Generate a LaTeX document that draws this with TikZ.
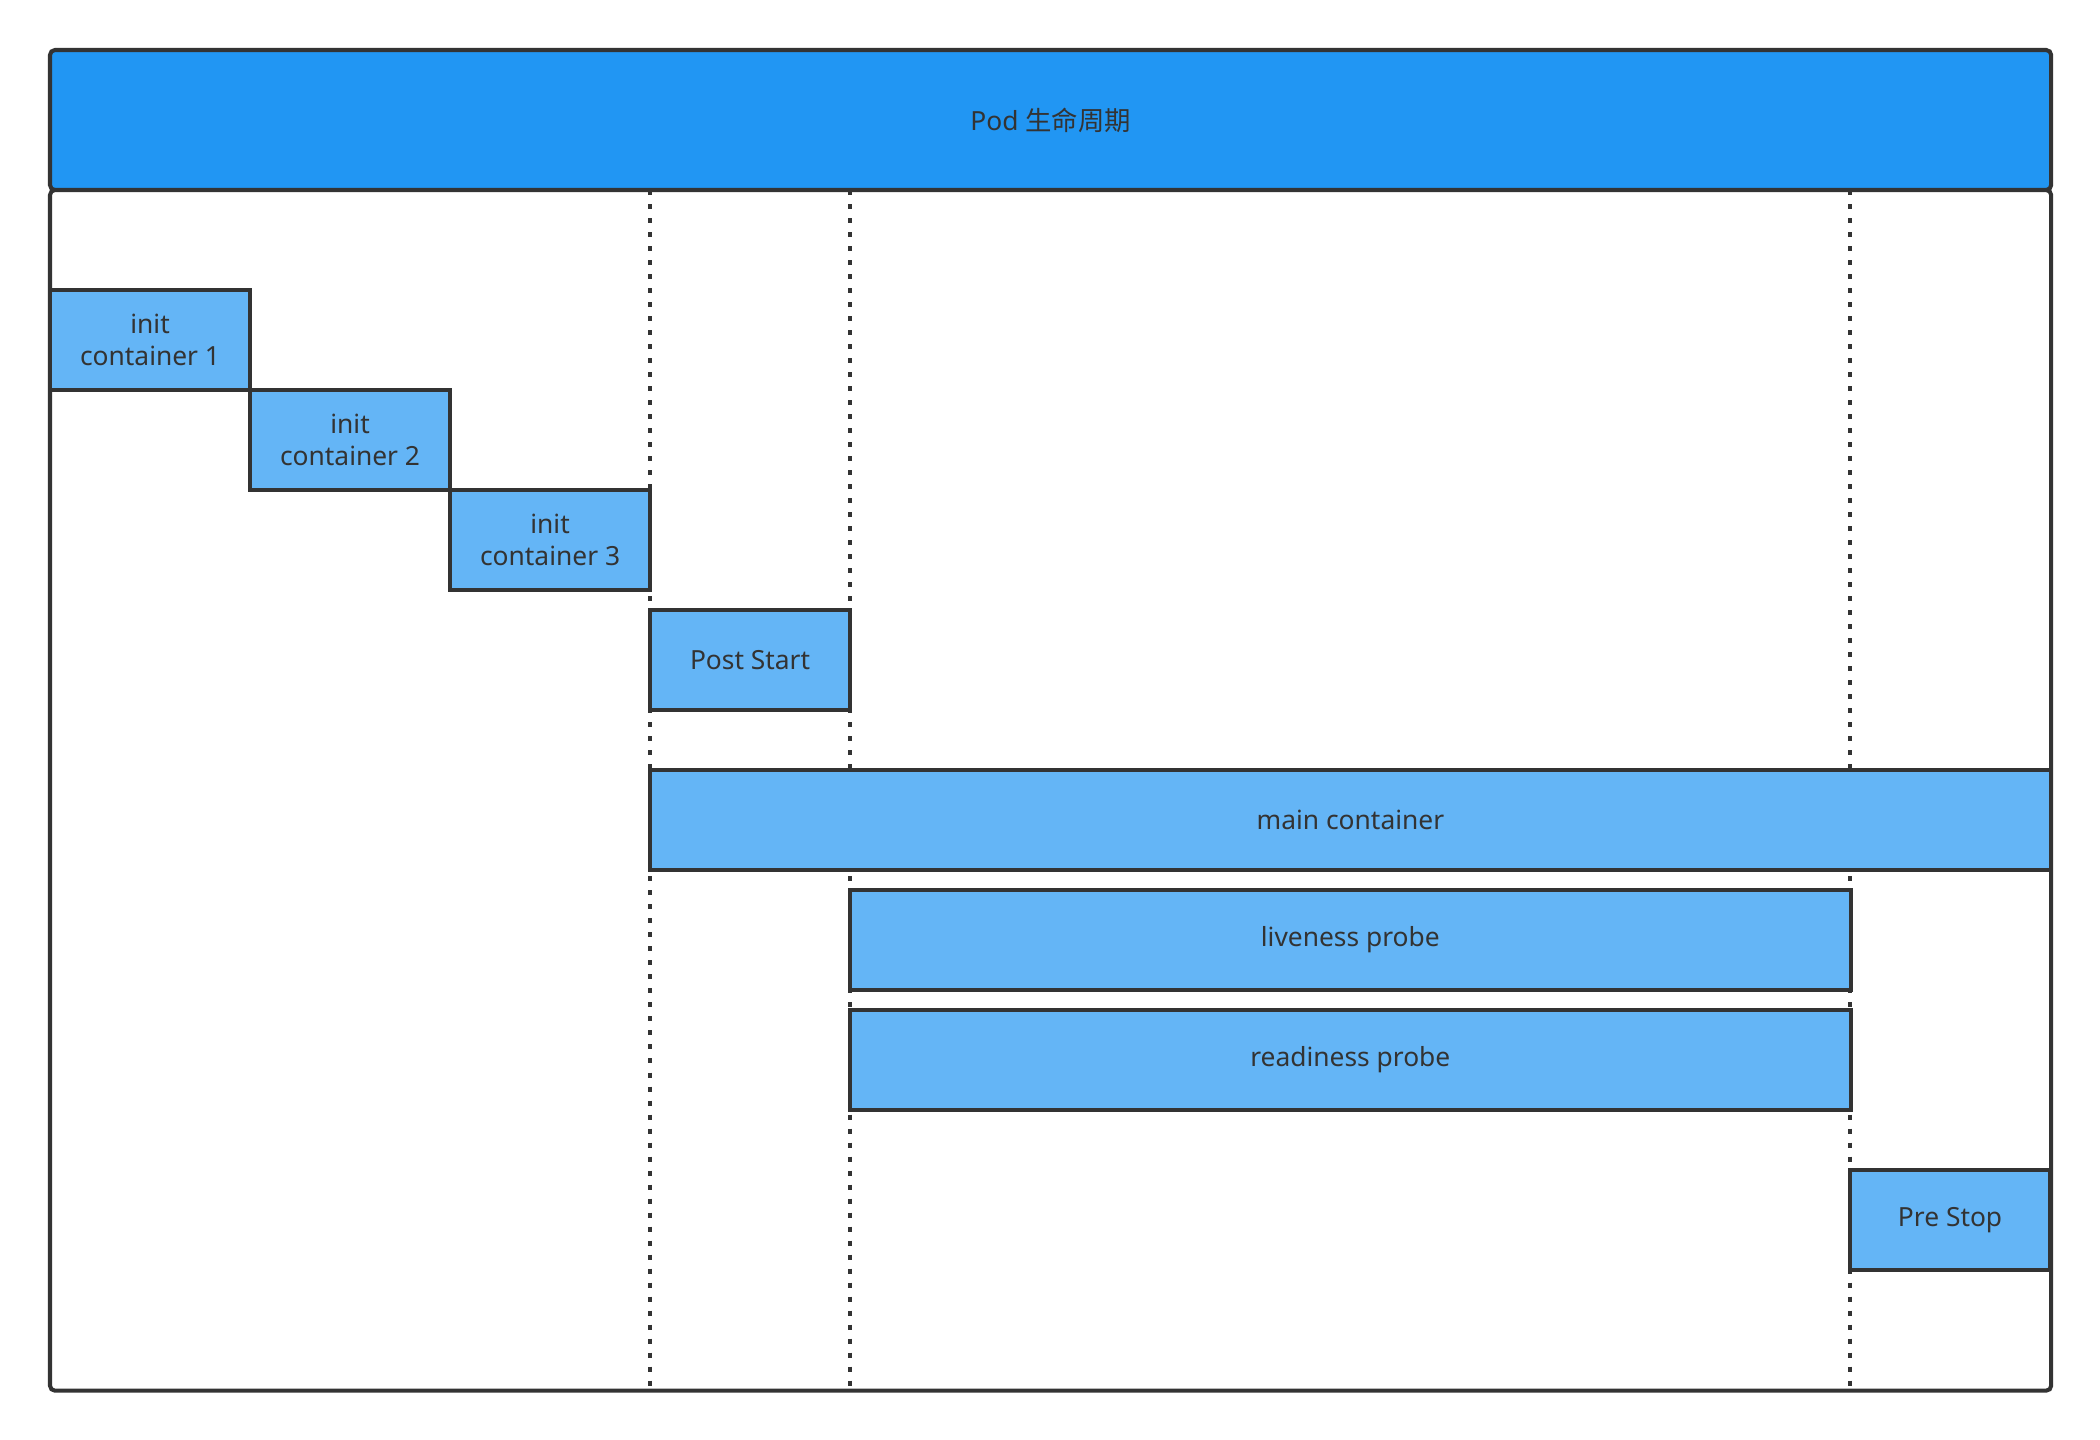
\documentclass[tikz,border=0pt]{standalone}
\usepackage{fontspec}
\setmainfont{Noto Sans}
\newfontfamily\cjk{Noto Sans CJK SC}
\definecolor{edge}{HTML}{333333}
\definecolor{hdrfill}{HTML}{2196F3}
\definecolor{boxfill}{HTML}{64B5F6}
\begin{document}
\begin{tikzpicture}[x=0.01cm,y=-0.01cm,
  txt/.style={text=edge, font=\fontsize{7.5pt}{9pt}\selectfont, align=center, inner sep=0pt, outer sep=0pt},
  header/.style={txt, draw=edge, fill=hdrfill, line width=1.15pt, rounded corners=0.05cm, anchor=north west},
  podbody/.style={draw=edge, fill=white, line width=1.15pt, rounded corners=0.05cm, anchor=north west, inner sep=0pt, outer sep=0pt},
  phase/.style={txt, draw=edge, fill=boxfill, line width=1.15pt, anchor=north west, minimum height=1cm},
  divider/.style={draw=edge, line width=1.15pt, dash pattern=on 0.05cm off 0.09cm}
]
\useasboundingbox (0,0) rectangle (2100,1440);
\node[header, minimum width=20cm, minimum height=1.4cm] (hdr) at (50,50) {Pod {\cjk 生命周期}};
\node[podbody, minimum width=20cm, minimum height=12cm] (pod) at (50,190) {};
% dividers
\coordinate (d1t) at (650,190); \coordinate (d1b) at (650,1390);
\coordinate (d2t) at (850,190); \coordinate (d2b) at (850,1390);
\coordinate (d3t) at (1850,190); \coordinate (d3b) at (1850,1390);
\draw[divider] (d1t) -- (d1b);
\draw[divider] (d2t) -- (d2b);
\draw[divider] (d3t) -- (d3b);
% phases
\node[phase, minimum width=2cm] (i1) at (50,290) {init\\container 1};
\node[phase, minimum width=2cm] (i2) at (250,390) {init\\container 2};
\node[phase, minimum width=2cm] (i3) at (450,490) {init\\container 3};
\node[phase, minimum width=2cm] (ps) at (650,610) {Post Start};
\node[phase, minimum width=14cm] (mc) at (650,770) {main container};
\node[phase, minimum width=10cm] (lp) at (850,890) {liveness probe};
\node[phase, minimum width=10cm] (rp) at (850,1010) {readiness probe};
\node[phase, minimum width=2cm] (pst) at (1850,1170) {Pre Stop};
\end{tikzpicture}
\end{document}
